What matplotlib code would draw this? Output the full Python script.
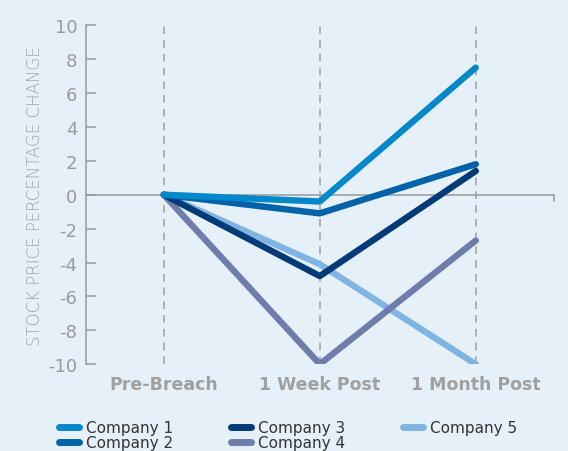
import matplotlib.pyplot as plt

plt.rcParams["axes.unicode_minus"] = False

stages = ["Pre-Breach", "1 Week Post", "1 Month Post"]
companies = ["Company 1", "Company 2", "Company 3", "Company 4", "Company 5"]
company_1 = [0, -0.4, 7.5]
company_2 = [0, -1.1, 1.8]
company_3 = [0, -4.8, 1.4]
company_4 = [0, -10, -2.7]
company_5 = [0, -4.1, -10]
colors = ["#0587cb", "#0263a8", "#033a78", "#6f7dac", "#7fb5e2"]

bg = "#e6f0f9"
grey = "#999999"

fig = plt.figure(figsize=(5.68, 4.52), dpi=100, facecolor=bg)
ax = fig.add_axes([0.151, 0.192, 0.824, 0.750], facecolor=bg)

x = list(range(len(stages)))
for xi in x:
    ax.axvline(xi, color="#a0a0a0", lw=1.1, ls=(0, (5, 4)), zorder=1)
ax.axhline(0, color=grey, lw=1.1, zorder=1)
ax.plot([2.5, 2.5], [0, -0.4], color=grey, lw=1.1, clip_on=False)

series = [company_1, company_2, company_3, company_4, company_5]
# draw back to front so company 1 sits on top
for name, vals, c in reversed(list(zip(companies, series, colors))):
    ax.plot(x, vals, color=c, lw=4.6, solid_capstyle="round",
            solid_joinstyle="round", label=name, zorder=3)

ax.set_xlim(-0.5, 2.5)
ax.set_ylim(-10, 10)
ax.set_yticks(range(-10, 11, 2))
ax.tick_params(axis="y", direction="in", length=7, width=1.1, color=grey,
               labelcolor="#9a9a9a", labelsize=13, pad=6)
ax.set_xticks(x)
ax.set_xticklabels(stages, fontsize=12.5, fontweight="bold", color="#a0a0a0")
ax.tick_params(axis="x", length=0, pad=8)
for s in ["top", "right", "bottom"]:
    ax.spines[s].set_visible(False)
ax.spines["left"].set_color(grey)
ax.spines["left"].set_linewidth(1.1)
ax.set_ylabel("STOCK PRICE PERCENTAGE CHANGE", fontsize=12, color="#a5a5a5",
              fontweight="light", labelpad=3)

handles, labels = ax.get_legend_handles_labels()
order = [labels.index(n) for n in companies]
leg = fig.legend([handles[i] for i in order], companies, ncol=3, frameon=False,
                 loc="lower left", bbox_to_anchor=(0.08, -0.028), fontsize=11,
                 handlelength=1.3, handletextpad=0.45, columnspacing=3.8,
                 labelspacing=0.0, labelcolor="#333333")
for h in leg.legend_handles:
    h.set_linewidth(5)
    h.set_solid_capstyle("round")

fig.savefig("out.png", dpi=100, facecolor=bg)
